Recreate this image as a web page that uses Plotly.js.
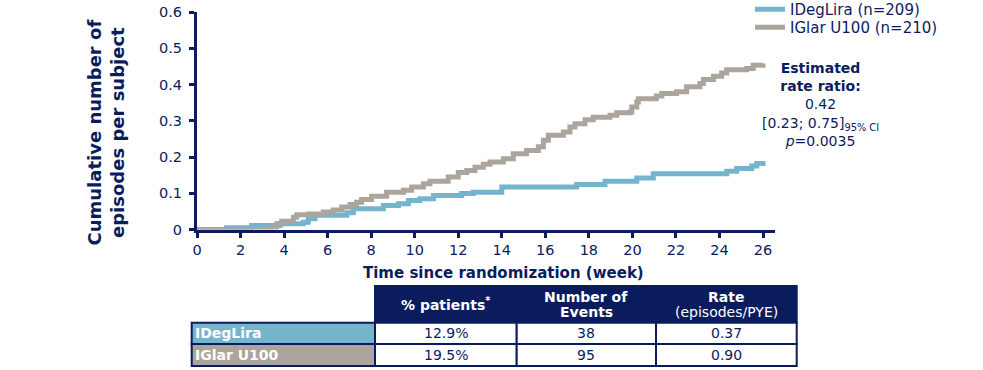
<!DOCTYPE html>
<html>
<head>
<meta charset="utf-8">
<script src="https://cdn.plot.ly/plotly-3.0.1.min.js"></script>
<style>html,body{margin:0;padding:0;background:#fff;}#chart{width:983px;height:370px;}</style>
</head>
<body>
<div id="chart"></div>
<script>
// ---- data ----
const seriesNames = ["IDegLira (n=209)", "IGlar U100 (n=210)"];
const idegWeeks = [0, 1.36, 2.51, 3.81, 4.88, 5.11, 5.42, 6.88, 7.18, 8.56, 9.25, 9.71, 10.24, 10.86, 12.16, 12.69, 14.0, 17.44, 18.74, 20.2, 20.96, 24.33, 24.79, 25.48, 25.71, 26.0];
const idegValues = [0, 0.005, 0.011, 0.016, 0.020, 0.030, 0.039, 0.046, 0.057, 0.066, 0.071, 0.080, 0.085, 0.094, 0.099, 0.103, 0.117, 0.124, 0.133, 0.142, 0.154, 0.161, 0.168, 0.175, 0.182, 0.189];
const iglarWeeks = [0, 3.35, 3.66, 3.89, 4.43, 4.58, 5.11, 5.80, 6.26, 6.65, 7.03, 7.33, 7.56, 8.02, 8.71, 9.48, 9.86, 10.40, 10.70, 11.54, 12.00, 12.39, 12.77, 13.15, 13.46, 14.07, 14.53, 15.14, 15.68, 15.91, 16.14, 16.83, 17.13, 17.36, 17.82, 18.2, 18.97, 19.28, 19.89, 19.97, 20.2, 20.27, 21.1, 21.35, 22.03, 22.49, 23.1, 23.26, 23.72, 24.1, 24.33, 25.25, 25.55, 26.0];
const iglarValues = [0, 0.006, 0.016, 0.023, 0.034, 0.041, 0.043, 0.048, 0.054, 0.062, 0.069, 0.075, 0.083, 0.092, 0.103, 0.108, 0.117, 0.126, 0.133, 0.145, 0.157, 0.163, 0.172, 0.180, 0.186, 0.195, 0.209, 0.218, 0.228, 0.246, 0.260, 0.269, 0.283, 0.292, 0.303, 0.310, 0.315, 0.322, 0.324, 0.338, 0.352, 0.361, 0.368, 0.375, 0.380, 0.394, 0.403, 0.414, 0.423, 0.432, 0.441, 0.444, 0.453, 0.458];
const xTickVals = [0, 2, 4, 6, 8, 10, 12, 14, 16, 18, 20, 22, 24, 26];
const yTickVals = [0, 0.1, 0.2, 0.3, 0.4, 0.5, 0.6];
const yTickText = ["0", "0.1", "0.2", "0.3", "0.4", "0.5", "0.6"];
const tableHeaderLines = [[], ["<b>% patients<sup>*</sup></b>"], ["<b>Number of</b>", "<b>Events</b>"], ["<b>Rate</b>", "(episodes/PYE)"]];
const tableGroups = ["IDegLira", "IGlar U100"];
const tablePctPatients = ["12.9%", "19.5%"];
const tableEvents = ["38", "95"];
const tableRates = ["0.37", "0.90"];

// ---- style ----
const NAVY = "#0B1C5E";
const BLUE = "#74B5CD";
const GRAY = "#ABA59E";
const FONT = "DejaVu Sans, Verdana, sans-serif";
const W = 983, H = 370;
const px = v => v / W;
const py = v => (H - v) / H;

// table geometry (layout, pixels)
const colEdges = [191.7, 375, 516.7, 656, 796.7];
const headerTop = 286, headerBottom = 322.7;
const rowEdges = [322.7, 344, 366];
const groupFills = [BLUE, GRAY];

const shapes = [];
const annotations = [];

// header cells
for (let c = 1; c < colEdges.length - 1; c++) {
  shapes.push({type: "rect", xref: "paper", yref: "paper", layer: "above",
    x0: px(colEdges[c]), x1: px(colEdges[c + 1]), y0: py(headerBottom), y1: py(headerTop),
    fillcolor: NAVY, line: {color: NAVY, width: 2}});
  const lines = tableHeaderLines[c] || [];
  const mid = (headerTop + headerBottom) / 2;
  const step = 15.5;
  lines.forEach((t, i) => {
    const yc = mid + (i - (lines.length - 1) / 2) * step;
    annotations.push({xref: "paper", yref: "paper", x: px((colEdges[c] + colEdges[c + 1]) / 2), y: py(yc),
      xanchor: "center", yanchor: "middle", showarrow: false, text: t,
      font: {family: FONT, size: 14, color: "#ffffff"}});
  });
}
// body cells
const bodyCols = [tableGroups, tablePctPatients, tableEvents, tableRates];
for (let r = 0; r < tableGroups.length; r++) {
  for (let c = 0; c < bodyCols.length; c++) {
    shapes.push({type: "rect", xref: "paper", yref: "paper", layer: "above",
      x0: px(colEdges[c]), x1: px(colEdges[c + 1]), y0: py(rowEdges[r + 1]), y1: py(rowEdges[r]),
      fillcolor: c === 0 ? groupFills[r] : "#ffffff", line: {color: NAVY, width: 2}});
    const yc = (rowEdges[r] + rowEdges[r + 1]) / 2;
    if (c === 0) {
      annotations.push({xref: "paper", yref: "paper", x: px(colEdges[0] + 1), y: py(yc),
        xanchor: "left", yanchor: "middle", showarrow: false, text: "<b>" + bodyCols[c][r] + "</b>",
        font: {family: FONT, size: 14, color: "#ffffff"}});
    } else {
      annotations.push({xref: "paper", yref: "paper", x: px((colEdges[c] + colEdges[c + 1]) / 2), y: py(yc),
        xanchor: "center", yanchor: "middle", showarrow: false, text: bodyCols[c][r],
        font: {family: FONT, size: 14, color: NAVY}});
    }
  }
}

annotations.push(
  {xref: "paper", yref: "paper", x: px(105), y: py(132.5), xanchor: "center", yanchor: "middle",
   textangle: -90, showarrow: false, align: "center",
   text: "<b>Cumulative number of</b><br><b>episodes per subject</b>",
   font: {family: FONT, size: 18, color: NAVY}},
  {xref: "paper", yref: "paper", x: px(503), y: py(273), xanchor: "center", yanchor: "middle",
   showarrow: false, text: "<b>Time since randomization (week)</b>",
   font: {family: FONT, size: 15, color: NAVY}},
  {xref: "paper", yref: "paper", x: px(820), y: py(104), xanchor: "center", yanchor: "middle",
   showarrow: false, align: "center",
   text: "<b>Estimated</b><br><b>rate ratio:</b><br>0.42<br>[0.23; 0.75]<sub>95% CI</sub><br><i>p</i>=0.0035",
   font: {family: FONT, size: 14, color: NAVY}}
);

const traces = [
  {type: "scatter", mode: "lines", x: idegWeeks, y: idegValues, name: seriesNames[0], legend: "legend",
   line: {color: BLUE, width: 5, shape: "hv"}, cliponaxis: false},
  {type: "scatter", mode: "lines", x: iglarWeeks, y: iglarValues, name: seriesNames[1], legend: "legend2",
   line: {color: GRAY, width: 5, shape: "hv"}, cliponaxis: false}
];

const legendBase = {x: px(750), xanchor: "left", yanchor: "top", bgcolor: "rgba(0,0,0,0)",
  font: {family: FONT, size: 15, color: NAVY}, itemwidth: 30};

const layout = {
  width: W, height: H,
  margin: {l: 0, r: 0, t: 0, b: 0, autoexpand: false},
  paper_bgcolor: "#ffffff", plot_bgcolor: "rgba(0,0,0,0)",
  font: {family: FONT, size: 14, color: NAVY},
  showlegend: true,
  legend: Object.assign({}, legendBase, {y: 1 + 7 / H}),
  legend2: Object.assign({}, legendBase, {y: 1 - 11 / H}),
  xaxis: {domain: [px(197), px(775)], range: [0, 26.55], tickvals: xTickVals, automargin: false,
          showline: true, linecolor: NAVY, linewidth: 3, ticks: "outside", ticklen: 5, tickwidth: 3,
          tickcolor: NAVY, showgrid: false, zeroline: false, layer: "below traces",
          tickfont: {family: FONT, size: 14.5, color: NAVY}, ticklabelstandoff: 0, fixedrange: true},
  yaxis: {domain: [py(229.5), py(12)], range: [0, 0.6], tickvals: yTickVals, ticktext: yTickText, automargin: false,
          showline: true, linecolor: NAVY, linewidth: 3, ticks: "outside", ticklen: 5, tickwidth: 3,
          tickcolor: NAVY, showgrid: false, zeroline: false, layer: "below traces",
          tickfont: {family: FONT, size: 14.5, color: NAVY}, ticklabelstandoff: 4, fixedrange: true},
  shapes: shapes,
  annotations: annotations
};

Plotly.newPlot("chart", traces, layout, {staticPlot: true, displayModeBar: false});
</script>
</body>
</html>
